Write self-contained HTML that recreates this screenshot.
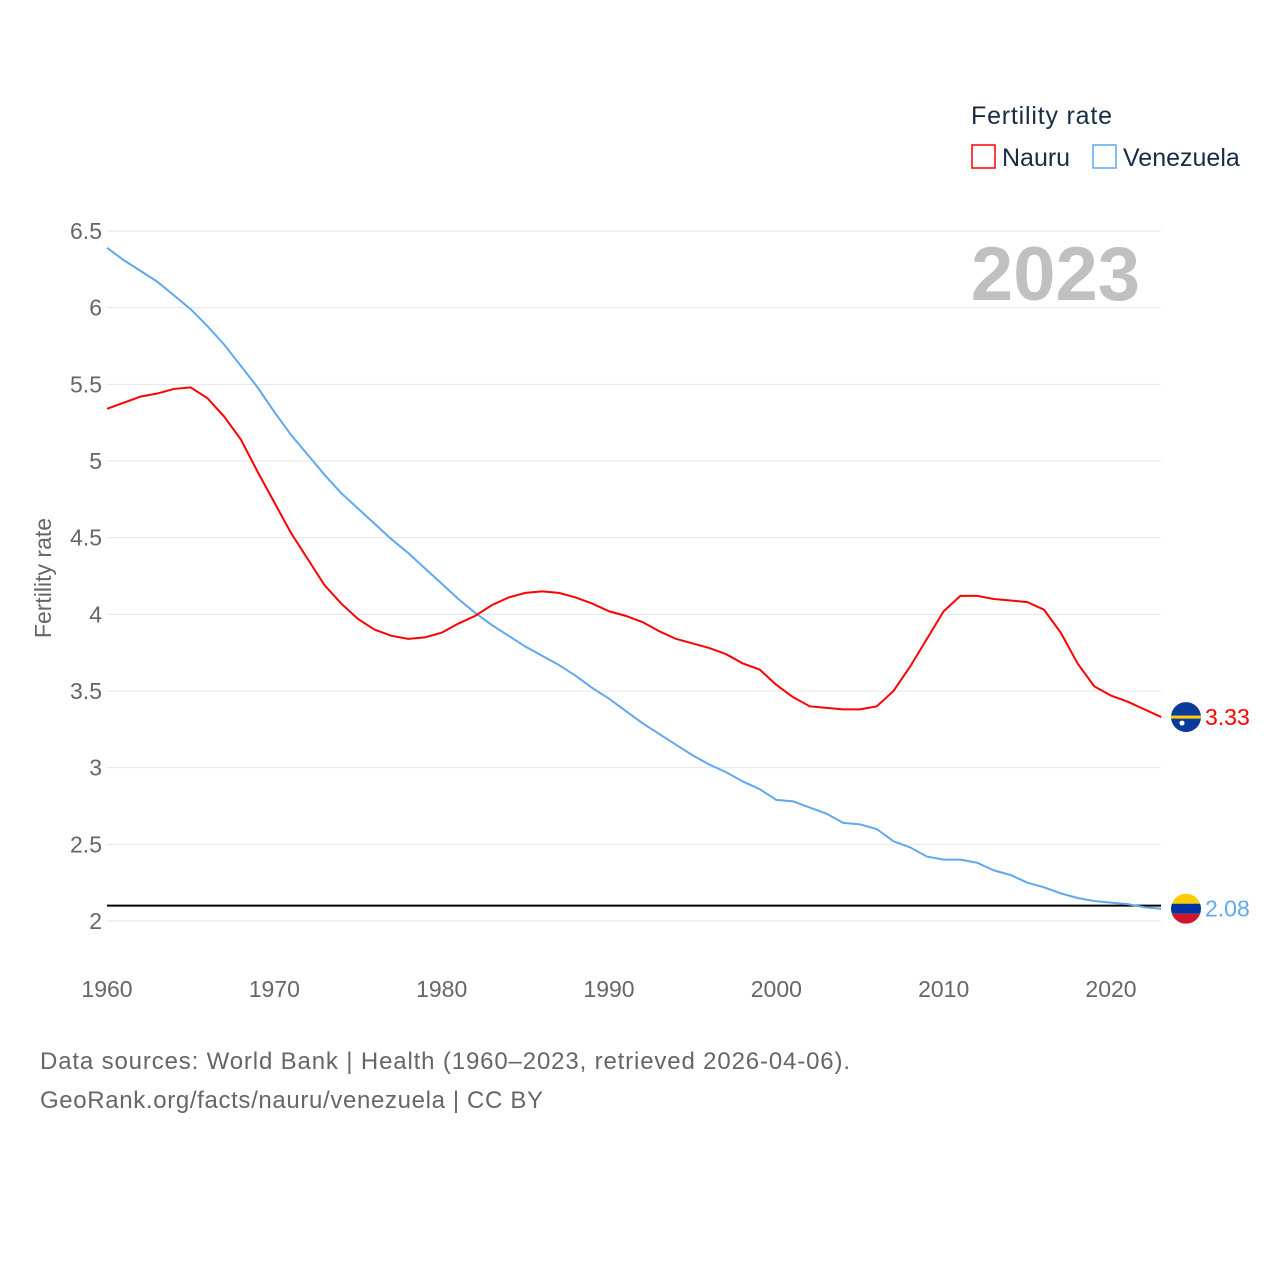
<!DOCTYPE html>
<html><head><meta charset="utf-8">
<style>
body{margin:0;background:#fff;font-family:"Liberation Sans",sans-serif;}
svg text{font-family:"Liberation Sans",sans-serif;}
</style></head>
<body>
<svg id="chart" width="1280" height="1280" xmlns="http://www.w3.org/2000/svg">
<text x="971" y="124" font-size="25" fill="#1a2b44" textLength="141">Fertility rate</text>
<g>
<rect x="972" y="145" width="23" height="23" fill="none" stroke="#f00" stroke-width="1.5"/>
<text x="1002" y="166" font-size="25" fill="#1a2b44">Nauru</text></g>
<g>
<rect x="1093" y="145" width="23" height="23" fill="none" stroke="#5fa8f0" stroke-width="1.5"/>
<text x="1123" y="166" font-size="25" fill="#1a2b44">Venezuela</text></g>
<text x="1140" y="300" font-size="76" font-weight="bold" fill="#c0c0c0" text-anchor="end">2023</text>
<text transform="translate(51,578) rotate(-90)" font-size="23" fill="#666" text-anchor="middle">Fertility rate</text>
<g id="grid"></g><g id="lines"></g>
<text x="40" y="1069" font-size="24" fill="#666" textLength="810">Data sources: World Bank | Health (1960–2023, retrieved 2026-04-06).</text>
<text x="40" y="1108" font-size="24" fill="#666" textLength="503">GeoRank.org/facts/nauru/venezuela | CC BY</text>
</svg>
<script>
const years=[];for(let y=1960;y<=2023;y++)years.push(y);
const nauru=[5.34,5.38,5.42,5.44,5.47,5.48,5.41,5.29,5.14,4.93,4.73,4.53,4.36,4.19,4.07,3.97,3.90,3.86,3.84,3.85,3.88,3.94,3.99,4.06,4.11,4.14,4.15,4.14,4.11,4.07,4.02,3.99,3.95,3.89,3.84,3.81,3.78,3.74,3.68,3.64,3.54,3.46,3.40,3.39,3.38,3.38,3.40,3.50,3.66,3.84,4.02,4.12,4.12,4.10,4.09,4.08,4.03,3.88,3.68,3.53,3.47,3.43,3.38,3.33];
const venezuela=[6.39,6.31,6.24,6.17,6.08,5.99,5.88,5.76,5.62,5.48,5.32,5.17,5.04,4.91,4.79,4.69,4.59,4.49,4.40,4.30,4.20,4.10,4.01,3.93,3.86,3.79,3.73,3.67,3.60,3.52,3.45,3.37,3.29,3.22,3.15,3.08,3.02,2.97,2.91,2.86,2.79,2.78,2.74,2.70,2.64,2.63,2.60,2.52,2.48,2.42,2.40,2.40,2.38,2.33,2.30,2.25,2.22,2.18,2.15,2.13,2.12,2.11,2.09,2.08];
const yTicks=[2,2.5,3,3.5,4,4.5,5,5.5,6,6.5];
const yTickLabels=["2","2.5","3","3.5","4","4.5","5","5.5","6","6.5"];
const xTicks=[1960,1970,1980,1990,2000,2010,2020];
const refValue=2.1;
const NS="http://www.w3.org/2000/svg";
const X=y=>107+(y-1960)*(1111-107)/60;
const Y=v=>921-(v-2)*(921-231)/4.5;
function mk(t,a,p){const e=document.createElementNS(NS,t);for(const k in a)e.setAttribute(k,a[k]);p.appendChild(e);return e;}
const grid=document.getElementById('grid'),lines=document.getElementById('lines');
yTicks.forEach((v,i)=>{
 const l=mk('line',{x1:107,x2:1161,y1:Y(v),y2:Y(v),stroke:'#e6e6e6','stroke-width':1},grid);
 
 
 const t=mk('text',{x:102,y:Y(v)+8,'font-size':23,fill:'#666','text-anchor':'end'},grid);t.textContent=yTickLabels[i];
 
 
});
xTicks.forEach(x=>{
 const t=mk('text',{x:X(x),y:997,'font-size':23,fill:'#666','text-anchor':'middle'},grid);t.textContent=x;
 
 
});
const ref=mk('line',{x1:107,x2:1161,y1:Y(refValue),y2:Y(refValue),stroke:'#000','stroke-width':2},lines);


function series(vals,col,name){
 const p=mk('polyline',{points:vals.map((v,i)=>X(years[i])+','+Y(v)).join(' '),fill:'none',stroke:col,'stroke-width':2},lines);
 
 
 const last=vals[vals.length-1],cy=Y(last),cx=1186;
 const g=mk('g',{},lines);
 
 
 if(name==='nauru'){
  mk('circle',{cx:cx,cy:cy,r:15,fill:'#0a3a9a'},g);
  mk('rect',{x:cx-15,y:cy-1.5,width:30,height:3,fill:'#fc0'},g);
  mk('circle',{cx:cx-4,cy:cy+6,r:2.5,fill:'#fff'},g);
 }else{
  const cp=mk('clipPath',{id:'vc'},g);mk('circle',{cx:cx,cy:cy,r:15},cp);
  mk('rect',{x:cx-15,y:cy-15,width:30,height:10,fill:'#fc0','clip-path':'url(#vc)'},g);
  mk('rect',{x:cx-15,y:cy-5,width:30,height:10,fill:'#0033a0','clip-path':'url(#vc)'},g);
  mk('rect',{x:cx-15,y:cy+5,width:30,height:10,fill:'#cf142b','clip-path':'url(#vc)'},g);
 }
 const t=mk('text',{x:1205,y:cy+8,'font-size':23,fill:col},lines);t.textContent=last.toFixed(2);
 
 
}
series(venezuela,'#5fa8f0','venezuela');
series(nauru,'#f00','nauru');
</script>
</body></html>
